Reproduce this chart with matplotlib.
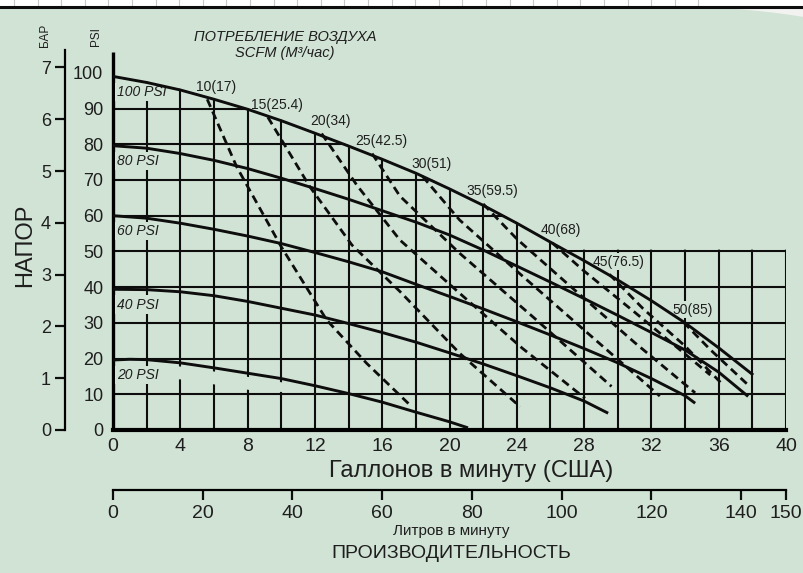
import numpy as np
import matplotlib
matplotlib.use("Agg")
import matplotlib.pyplot as plt
from matplotlib.patches import Polygon, Rectangle

# ---------------- data ----------------
gpm_ticks = list(range(0, 41, 4))
lpm_ticks = [0, 20, 40, 60, 80, 100, 120, 140, 150]
psi_ticks = list(range(0, 101, 10))
bar_ticks = list(range(0, 8))

# head (psi) vs flow (US gpm) at each air supply pressure
p100_x = [0, 2, 4, 6, 8, 10, 12, 14, 16, 18, 20, 22, 24, 26, 28, 30, 32, 34, 36, 38.05]
p100_y = [99, 97.3, 95.2, 92.6, 89.8, 86.6, 83.1, 79.5, 75.8, 71.9, 67.5, 62.9, 57.9, 52.6, 47.4, 42, 36.2, 30, 23, 15.4]
p80_x = [0, 2, 4, 6, 8, 10, 12, 14, 16, 18, 20, 22, 24, 26, 28, 30, 32, 34, 36, 37.75]
p80_y = [79.6, 78.9, 77.4, 75.5, 73.2, 70.5, 67.6, 64.6, 61.4, 58.2, 54.6, 50.4, 45.9, 41.4, 36.8, 32.1, 27.3, 22.4, 16.2, 9.4]
p60_x = [0, 2, 4, 6, 8, 10, 12, 14, 16, 18, 20, 22, 24, 26, 28, 30, 32, 34, 34.6]
p60_y = [60, 59.3, 57.9, 56.2, 54.3, 52.2, 49.7, 47.1, 44.3, 40.8, 37.4, 33.9, 30.3, 26.6, 22.8, 18.8, 14.4, 9.6, 7.5]
p40_x = [0, 2, 4, 6, 8, 10, 12, 14, 16, 18, 20, 22, 24, 26, 28, 29.43]
p40_y = [39.4, 39.3, 38.7, 37.6, 36.0, 34.1, 32.2, 29.8, 27.3, 24.6, 21.6, 18.5, 15.2, 11.8, 8.1, 4.7]
p20_x = [0, 1, 2, 4, 6, 8, 10, 12, 14, 16, 18, 20, 21.1]
p20_y = [19.6, 19.8, 19.7, 18.8, 17.4, 15.9, 14.4, 12.4, 10.2, 7.8, 5.0, 2.3, 0.6]
pressure_labels = ["100 PSI", "80 PSI", "60 PSI", "40 PSI", "20 PSI"]

# air consumption lines (SCFM, m3/h)
scfm = [10, 15, 20, 25, 30, 35, 40, 45, 50]
m3h = [17, 25.4, 34, 42.5, 51, 59.5, 68, 76.5, 85]
a10_x = [5.6, 7.35, 10, 12.7, 15.07, 17.65]
a10_y = [92.6, 73.7, 51.3, 30.8, 18.7, 7.0]
a15_x = [9.2, 11.7, 14.2, 17.05, 20.6, 24.2]
a15_y = [87.6, 68.1, 51.8, 38.8, 21.5, 6.5]
a20_x = [12.4, 14.5, 17.05, 20.6, 24.3, 28.05]
a20_y = [83.0, 68.5, 53.2, 38.3, 23.0, 8.9]
a25_x = [15.4, 17.05, 20.6, 25, 29.63]
a25_y = [77.4, 65.5, 49.5, 31.5, 12.2]
a30_x = [18.4, 20.6, 24, 28, 32.5]
a30_y = [71.0, 58.8, 44.5, 28, 9.5]
a35_x = [22, 24, 27, 31, 34.6]
a35_y = [63.3, 53.5, 41, 24.5, 10.4]
a40_x = [26.1, 28, 31, 35.5]
a40_y = [52.4, 44.5, 33, 15.4]
a45_x = [29.5, 31.5, 34, 36.26]
a45_y = [43.6, 34, 23.5, 12.6]
a50_x = [33.9, 35.5, 37.75]
a50_y = [30.2, 22.5, 12.6]

# ---------------- style ----------------
plt.rcParams['font.family'] = ['Liberation Sans', 'DejaVu Sans']
plt.rcParams['lines.scale_dashes'] = False
BG = '#d1e3d5'
INK = '#0d0d0d'
TXT = '#1e1e1e'

W, H = 804, 573
fig = plt.figure(figsize=(W / 100, H / 100), dpi=100, facecolor=BG)


def fx(px):
    return px / W


def fy(py):
    return 1 - py / H


# page strip at the top
fig.patches.append(Rectangle((0, fy(6)), 1, 6 / H, transform=fig.transFigure,
                             facecolor='white', edgecolor='none', zorder=0))
for gx in np.arange(14, 700, 23.6):
    fig.add_artist(plt.Line2D([fx(gx), fx(gx)], [fy(6), 1], transform=fig.transFigure,
                              color='#c8c8c8', lw=0.8))
sx = np.linspace(680, 804, 40)
sy = 7 + 10 * ((sx - 680) / 124) ** 2
swoosh = np.column_stack([np.r_[sx, 804], np.r_[sy, 7]])
fig.patches.append(Polygon(np.column_stack([fx(swoosh[:, 0]), fy(swoosh[:, 1])]),
                           transform=fig.transFigure, facecolor='#f2f2f0', edgecolor='none'))
fig.add_artist(plt.Line2D([0, 1], [fy(6.5), fy(6.5)], transform=fig.transFigure,
                          color=INK, lw=2.2))

# ---------------- main axes ----------------
X0, X1, Y0, YT = 113, 786, 430, 52
YMAX = (Y0 - YT) / 3.5717
ax = fig.add_axes([fx(X0), fy(Y0), (X1 - X0) / W, (Y0 - YT) / H])
ax.set_xlim(0, 40)
ax.set_ylim(0, YMAX)
ax.patch.set_alpha(0)
for s in ['top', 'right']:
    ax.spines[s].set_visible(False)
ax.spines['left'].set_linewidth(2.4)
ax.spines['bottom'].set_linewidth(3.0)
ax.spines['left'].set_capstyle('butt')
ax.set_xticks(gpm_ticks)
ax.set_xticklabels([str(t) for t in gpm_ticks], fontsize=14)
ax.set_yticks(psi_ticks)
ax.set_yticklabels([str(t) for t in psi_ticks])
ax.tick_params(axis='both', length=0, colors=TXT)
ax.tick_params(axis='y', labelsize=13, pad=7)
ax.tick_params(axis='x', pad=6)

# grid clipped under the 100 PSI curve and the right-hand box
xs = np.array(p100_x)
ys = np.array(p100_y)
xc = float(np.interp(50, ys[::-1], xs[::-1]))
keep = ys >= 50
verts = [(0, 0), (0, ys[0] + 0.3)]
verts += [(x, y + 0.3) for x, y in zip(xs[keep], ys[keep])]
verts += [(xc, 50.5), (40.2, 50.5), (40.2, 0)]
clip = Polygon(verts, closed=True, transform=ax.transData, facecolor='none', edgecolor='none')
ax.add_patch(clip)
for gx in range(2, 41, 2):
    ln, = ax.plot([gx, gx], [0, YMAX], color=INK, lw=1.5, zorder=2, solid_capstyle='butt')
    ln.set_clip_path(clip)
for gy in range(10, 100, 10):
    ln, = ax.plot([0, 40], [gy, gy], color=INK, lw=1.5, zorder=2, solid_capstyle='butt')
    ln.set_clip_path(clip)

# small break in the vertical grid lines just under the 20 PSI curve
gx_ = np.linspace(3, 10.6, 30)
gtop = np.interp(gx_, p20_x, p20_y) - 0.9
gbot = np.maximum(gtop - 3.6, 10.8)
ax.fill_between(gx_, gbot, gtop, color=BG, lw=0, zorder=2.5)

# pressure curves
curves = [(p100_x, p100_y), (p80_x, p80_y), (p60_x, p60_y), (p40_x, p40_y), (p20_x, p20_y)]
for (cx, cy), lab in zip(curves, pressure_labels):
    ax.plot(cx, cy, color=INK, lw=2.1, zorder=4, solid_capstyle='butt')
    ax.annotate(lab, xy=(cx[0], cy[0]), xytext=(3, -11), textcoords='offset points',
                ha='left', va='center', fontsize=10, style='italic', color=TXT, zorder=3,
                bbox=dict(boxstyle='square,pad=0.15', facecolor=BG, edgecolor='none'))

# air consumption lines
air = [(a10_x, a10_y), (a15_x, a15_y), (a20_x, a20_y), (a25_x, a25_y), (a30_x, a30_y),
       (a35_x, a35_y), (a40_x, a40_y), (a45_x, a45_y), (a50_x, a50_y)]
for (axx, ayy), s, m in zip(air, scfm, m3h):
    ax.plot(axx, ayy, color=INK, lw=2.0, dashes=(6, 3.6), zorder=4, dash_capstyle='butt')
    ax.annotate(f"{s}({m:g})", xy=(axx[0], ayy[0]), xytext=(6.5, 9), textcoords='offset points',
                ha='center', va='center', fontsize=10, color=TXT, zorder=3,
                bbox=dict(boxstyle='square,pad=0.1', facecolor=BG, edgecolor='none'))

# ---------------- BAR axis ----------------
axb = fig.add_axes([fx(65), fy(Y0), 0.001, (Y0 - 50) / H])
axb.set_ylim(0, (Y0 - 50) / 3.5717 / 14.5)
axb.set_xlim(0, 1)
axb.patch.set_alpha(0)
for s in ['top', 'right', 'bottom']:
    axb.spines[s].set_visible(False)
axb.spines['left'].set_linewidth(1.6)
axb.set_xticks([])
axb.set_yticks(bar_ticks)
axb.set_yticklabels([str(t) for t in bar_ticks])
axb.tick_params(axis='y', length=7, width=1.6, color=INK, labelsize=13, pad=3, labelcolor=TXT)

# ---------------- litres axis ----------------
axl = fig.add_axes([fx(X0), fy(490), (X1 - X0) / W, 0.0001])
axl.set_xlim(0, 150)
axl.patch.set_alpha(0)
for s in ['top', 'right', 'left']:
    axl.spines[s].set_visible(False)
axl.spines['bottom'].set_linewidth(1.6)
axl.set_yticks([])
axl.set_xticks(lpm_ticks)
axl.set_xticklabels([str(t) for t in lpm_ticks], fontsize=14)
axl.tick_params(axis='x', length=7, width=1.6, color=INK, pad=4, labelcolor=TXT)

# ---------------- texts ----------------
fig.text(fx(285), fy(37), "ПОТРЕБЛЕНИЕ ВОЗДУХА", ha='center', va='center',
         fontsize=10.5, style='italic', color=TXT)
fig.text(fx(285), fy(53), "SCFM (M³/час)", ha='center', va='center',
         fontsize=10.5, style='italic', color=TXT)
fig.text(fx(45), fy(35), "БАР", rotation=90, ha='center', va='center', fontsize=8.5, color=TXT)
fig.text(fx(96), fy(37), "PSI", rotation=90, ha='center', va='center', fontsize=8.5, color=TXT)
fig.text(fx(25), fy(245), "НАПОР", rotation=90, ha='center', va='center', fontsize=17, color=TXT)
fig.text(fx(471), fy(471), "Галлонов в минуту (США)", ha='center', va='center',
         fontsize=17, color=TXT)
fig.text(fx(451), fy(531), "Литров в минуту", ha='center', va='center', fontsize=11, color=TXT)
fig.text(fx(451), fy(554), "ПРОИЗВОДИТЕЛЬНОСТЬ", ha='center', va='center', fontsize=14,
         color=TXT)

fig.savefig("out.png", dpi=100, facecolor=BG)
